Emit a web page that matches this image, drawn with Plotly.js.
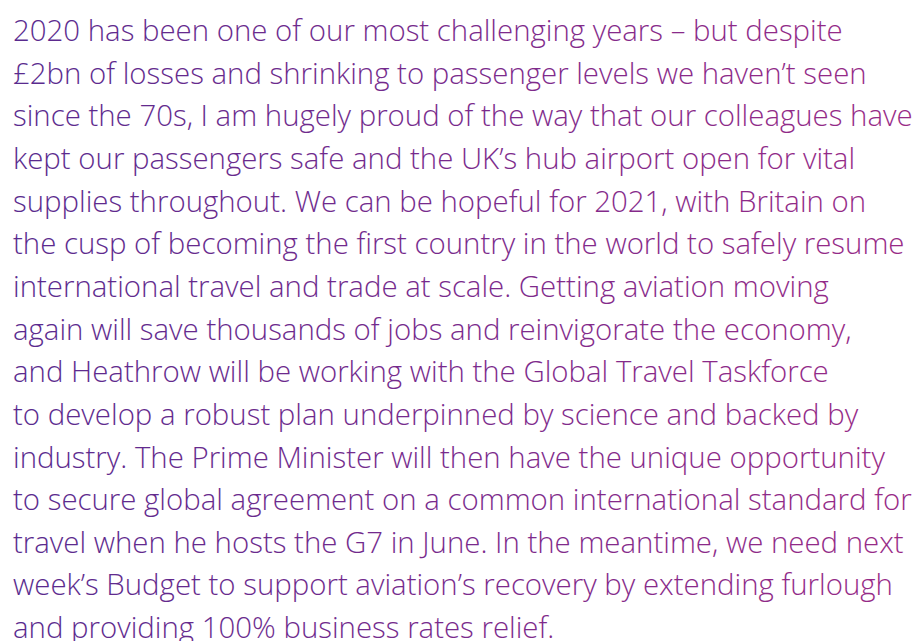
<!DOCTYPE html>
<html><head><meta charset="utf-8">
<script src="https://cdn.plot.ly/plotly-3.0.1.min.js"></script>
<style>html,body{margin:0;padding:0;background:#fff;}#chart{width:921px;height:641px;}</style>
</head><body><div id="chart"></div>
<script>
const lines = [
"2020 has been one of our most challenging years – but despite",
"£2bn of losses and shrinking to passenger levels we haven’t seen",
"since the 70s, I am hugely proud of the way that our colleagues have",
"kept our passengers safe and the UK’s hub airport open for vital",
"supplies throughout. We can be hopeful for 2021, with Britain on",
"the cusp of becoming the first country in the world to safely resume",
"international travel and trade at scale. Getting aviation moving",
"again will save thousands of jobs and reinvigorate the economy,",
"and Heathrow will be working with the Global Travel Taskforce",
"to develop a robust plan underpinned by science and backed by",
"industry. The Prime Minister will then have the unique opportunity",
"to secure global agreement on a common international standard for",
"travel when he hosts the G7 in June. In the meantime, we need next",
"week’s Budget to support aviation’s recovery by extending furlough",
"and providing 100% business rates relief."
];
const gradientStops = ['#592a8e', '#7a2a8c', '#9a2a86'];

const annotations = lines.map((t, i) => ({
  text: t, x: 11, y: 30 + i * 42.65, xref: 'x', yref: 'y',
  xanchor: 'left', yanchor: 'middle', showarrow: false,
  font: {family: 'Open Sans', size: 29.4, weight: 300, color: '#732a8c'}
}));

function applyGradient() {
  const svg = document.querySelector('#chart svg.main-svg');
  if (!svg) return;
  const ns = 'http://www.w3.org/2000/svg';
  let defs = svg.querySelector('defs');
  if (!defs) { defs = document.createElementNS(ns, 'defs'); svg.insertBefore(defs, svg.firstChild); }
  if (!svg.querySelector('#txtgrad')) {
    const g = document.createElementNS(ns, 'linearGradient');
    g.setAttribute('id', 'txtgrad');
    g.setAttribute('gradientUnits', 'userSpaceOnUse');
    g.setAttribute('x1', '0'); g.setAttribute('y1', '0');
    g.setAttribute('x2', '921'); g.setAttribute('y2', '0');
    gradientStops.forEach((c, k) => {
      const s = document.createElementNS(ns, 'stop');
      s.setAttribute('offset', String(k / (gradientStops.length - 1)));
      s.setAttribute('stop-color', c);
      g.appendChild(s);
    });
    defs.appendChild(g);
  }
  document.querySelectorAll('#chart .annotation-text').forEach(el => {
    el.style.fill = 'url(#txtgrad)';
  });
}

Plotly.newPlot('chart', [{x: [0], y: [0], mode: 'markers', marker: {opacity: 0}, hoverinfo: 'skip', showlegend: false}], {
  width: 921, height: 641,
  margin: {l: 0, r: 0, t: 0, b: 0},
  paper_bgcolor: '#ffffff', plot_bgcolor: '#ffffff',
  xaxis: {range: [0, 921], visible: false, fixedrange: true},
  yaxis: {range: [641, 0], visible: false, fixedrange: true},
  annotations: annotations,
  showlegend: false
}, {staticPlot: true, displayModeBar: false}).then(applyGradient);
</script></body></html>
